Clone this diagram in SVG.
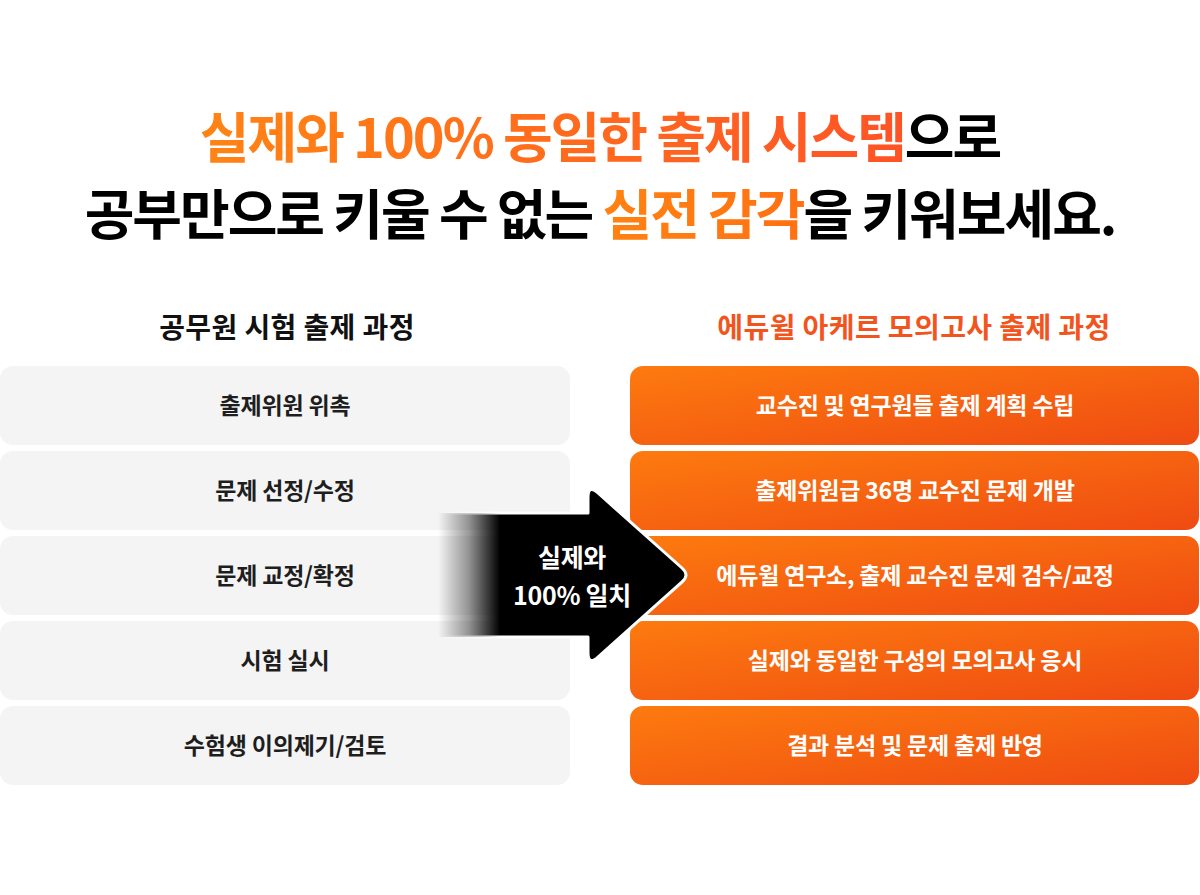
<svg xmlns="http://www.w3.org/2000/svg" width="1200" height="895" viewBox="0 0 1200 895">
<defs>
<linearGradient id="t1" gradientUnits="userSpaceOnUse" x1="200" y1="0" x2="910" y2="0"><stop offset="0" stop-color="#ff8414"/><stop offset="1" stop-color="#ff5326"/></linearGradient>
<linearGradient id="t2" gradientUnits="userSpaceOnUse" x1="610" y1="0" x2="810" y2="0"><stop offset="0" stop-color="#ff8212"/><stop offset="1" stop-color="#ff7012"/></linearGradient>
<linearGradient id="og" x1="0" y1="0" x2="1" y2="1"><stop offset="0" stop-color="#fd7b0f"/><stop offset="1" stop-color="#ef4b12"/></linearGradient>
<linearGradient id="fadeB" gradientUnits="userSpaceOnUse" x1="438" y1="0" x2="500" y2="0"><stop offset="0" stop-color="#000" stop-opacity="0"/><stop offset="0.5" stop-color="#000" stop-opacity="0.4"/><stop offset="1" stop-color="#000" stop-opacity="1"/></linearGradient>
<linearGradient id="fadeW" gradientUnits="userSpaceOnUse" x1="438" y1="0" x2="500" y2="0"><stop offset="0" stop-color="#fff" stop-opacity="0"/><stop offset="1" stop-color="#fff" stop-opacity="1"/></linearGradient>
</defs>
<style>
.ttl{font-family:"Noto Sans CJK KR","Noto Sans",sans-serif;font-weight:700;font-size:54px;letter-spacing:-2px;fill:#000}
.hd{font-family:"Noto Sans CJK KR","Noto Sans",sans-serif;font-weight:700;font-size:28px;letter-spacing:0.4px}
.lb{font-family:"Noto Sans CJK KR","Noto Sans",sans-serif;font-weight:600;font-size:23px;letter-spacing:-0.2px;text-anchor:middle}
.ar{font-size:25px;letter-spacing:-0.3px}
.gb{fill:#f4f4f4}
.ob{fill:url(#og)}
.dk{fill:#1e1e1e}
.wt{fill:#fff}
</style>
<rect width="1200" height="895" fill="#fff"/>
<g id="title">
<text class="ttl" x="600" y="158" text-anchor="middle"><tspan fill="url(#t1)">실제와 100% 동일한 출제 시스템</tspan>으로</text>
<text class="ttl" x="600" y="235" text-anchor="middle">공부만으로 키울 수 없는 <tspan fill="url(#t2)">실전 감각</tspan>을 키워보세요.</text>
</g>
<g id="heading-left"><text class="hd" x="287" y="338" text-anchor="middle" fill="#111">공무원 시험 출제 과정</text></g>
<g id="heading-right"><text class="hd" x="914" y="338" text-anchor="middle" fill="#f2541e">에듀윌 아케르 모의고사 출제 과정</text></g>
<g id="left-1"><rect class="gb" x="0" y="366" width="570" height="79" rx="13"/><text class="lb dk" x="285" y="414">출제위원 위촉</text></g>
<g id="left-2"><rect class="gb" x="0" y="451" width="570" height="79" rx="13"/><text class="lb dk" x="285" y="499">문제 선정/수정</text></g>
<g id="left-3"><rect class="gb" x="0" y="536" width="570" height="79" rx="13"/><text class="lb dk" x="285" y="584">문제 교정/확정</text></g>
<g id="left-4"><rect class="gb" x="0" y="621" width="570" height="79" rx="13"/><text class="lb dk" x="285" y="669">시험 실시</text></g>
<g id="left-5"><rect class="gb" x="0" y="706" width="570" height="79" rx="13"/><text class="lb dk" x="285" y="754">수험생 이의제기/검토</text></g>
<g id="right-1"><rect class="ob" x="630" y="366" width="569" height="79" rx="13"/><text class="lb wt" x="915" y="414">교수진 및 연구원들 출제 계획 수립</text></g>
<g id="right-2"><rect class="ob" x="630" y="451" width="569" height="79" rx="13"/><text class="lb wt" x="915" y="499">출제위원급 36명 교수진 문제 개발</text></g>
<g id="right-3"><rect class="ob" x="630" y="536" width="569" height="79" rx="13"/><text class="lb wt" x="915" y="584">에듀윌 연구소, 출제 교수진 문제 검수/교정</text></g>
<g id="right-4"><rect class="ob" x="630" y="621" width="569" height="79" rx="13"/><text class="lb wt" x="915" y="669">실제와 동일한 구성의 모의고사 응시</text></g>
<g id="right-5"><rect class="ob" x="630" y="706" width="569" height="79" rx="13"/><text class="lb wt" x="915" y="754">결과 분석 및 문제 출제 반영</text></g>
<g id="connectors">
<g id="arrow">
<path d="M438 513 H588 V498 Q588 484 598 493 L682 568 Q690 575 682 582 L598 657 Q588 666 588 652 V637 H438 Z" fill="url(#fadeB)" stroke="url(#fadeW)" stroke-width="3" stroke-linejoin="round"/>
<text class="lb wt ar" x="572" y="567">실제와</text>
<text class="lb wt ar" x="572" y="605">100% 일치</text>
</g>
</g>
</svg>
